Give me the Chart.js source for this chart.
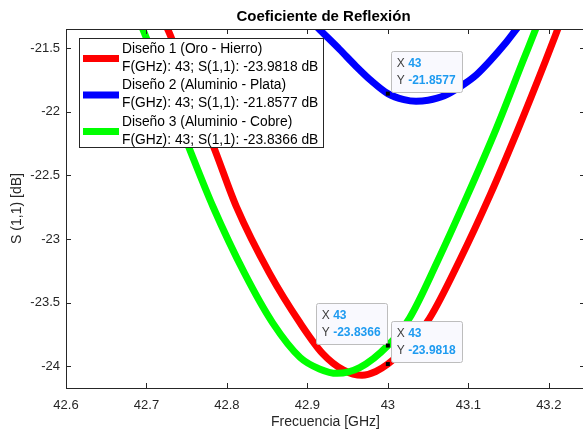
<!DOCTYPE html>
<html>
<head>
<meta charset="utf-8">
<script src="https://cdn.jsdelivr.net/npm/chart.js@4"></script>
<style>
    html, body { margin: 0; padding: 0; background: #fff; overflow: hidden; }
    #wrap { width: 600px; height: 432px; position: relative; }
</style>
</head>
<body>
<div id="wrap"><canvas id="s11Chart"></canvas></div>
<script>
// Diseño 1 (Oro - Hierro)
const freqD1 = [42.715, 42.727, 42.755, 42.785, 42.812, 42.853, 42.891, 42.919, 42.945, 42.968, 42.985, 43.0, 43.025, 43.052, 43.089, 43.127, 43.161, 43.196, 43.21, 43.225];
const s11D1 = [-21.22, -21.36, -21.83, -22.30, -22.75, -23.27, -23.66, -23.90, -24.03, -24.07, -24.04, -23.9818, -23.84, -23.62, -23.17, -22.655, -22.15, -21.60, -21.37, -21.12];

// Diseño 2 (Aluminio - Plata)
const freqD2 = [42.905, 42.916, 42.94, 42.96, 42.98, 43.0, 43.02, 43.035, 43.05, 43.07, 43.093, 43.11, 43.127, 43.145, 43.161, 43.175];
const s11D2 = [-21.29, -21.36, -21.51, -21.64, -21.76, -21.8577, -21.905, -21.918, -21.91, -21.875, -21.79, -21.71, -21.60, -21.47, -21.34, -21.23];

// Diseño 3 (Aluminio - Cobre)
const freqD3 = [42.685, 42.696, 42.725, 42.754, 42.783, 42.822, 42.857, 42.891, 42.915, 42.937, 42.965, 43.0, 43.027, 43.062, 43.099, 43.135, 43.168, 43.185, 43.20];
const s11D3 = [-21.20, -21.36, -21.83, -22.30, -22.75, -23.27, -23.66, -23.93, -24.02, -24.055, -24.01, -23.8366, -23.62, -23.17, -22.655, -22.128, -21.60, -21.33, -21.08];

const seriesNames = ['Diseño 1 (Oro - Hierro)', 'Diseño 2 (Aluminio - Plata)', 'Diseño 3 (Aluminio - Cobre)'];
const seriesColors = ['#ff0000', '#0000ff', '#00ff00'];

// data tips at 43 GHz
const markerFreq = 43;
const markerValues = [-23.9818, -21.8577, -23.8366];

const xTicks = [42.6, 42.7, 42.8, 42.9, 43, 43.1, 43.2];
const yTicks = [-24, -23.5, -23, -22.5, -22, -21.5];

const FONT = "'Liberation Sans', Arial, Helvetica, sans-serif";
const INK = '#262626';

Chart.defaults.font.family = FONT;
Chart.defaults.color = INK;

function toPoints(xs, ys) {
    return xs.map((x, i) => ({ x: x, y: ys[i] }));
}

const matlabFrame = {
    id: 'matlabFrame',
    afterDraw(chart) {
        const ctx = chart.ctx;
        const a = chart.chartArea;
        const xs = chart.scales.x;
        const ys = chart.scales.y;

        ctx.save();
        // box + inward ticks
        ctx.strokeStyle = INK;
        ctx.lineWidth = 1;
        ctx.strokeRect(Math.round(a.left) + 0.5, Math.round(a.top) + 0.5, Math.round(a.right - a.left), Math.round(a.bottom - a.top));
        ctx.beginPath();
        xTicks.forEach(v => {
            const px = Math.round(xs.getPixelForValue(v)) + 0.5;
            ctx.moveTo(px, a.bottom); ctx.lineTo(px, a.bottom - 5);
            ctx.moveTo(px, a.top); ctx.lineTo(px, a.top + 5);
        });
        yTicks.forEach(v => {
            const py = Math.round(ys.getPixelForValue(v)) + 0.5;
            ctx.moveTo(a.left, py); ctx.lineTo(a.left + 5, py);
            ctx.moveTo(a.right, py); ctx.lineTo(a.right - 5, py);
        });
        ctx.stroke();

        // title
        ctx.fillStyle = '#000';
        ctx.font = 'bold 15px ' + FONT;
        ctx.textAlign = 'center';
        ctx.textBaseline = 'middle';
        ctx.fillText('Coeficiente de Reflexión', (a.left + a.right) / 2 - 2, 17);

        // legend
        const lx = a.left + 13, ly = a.top + 9, lw = 244, lh = 109;
        ctx.fillStyle = '#fff';
        ctx.fillRect(lx, ly, lw, lh);
        ctx.strokeStyle = INK;
        ctx.strokeRect(lx + 0.5, ly + 0.5, lw, lh);
        ctx.font = '13.8px ' + FONT;
        ctx.textAlign = 'left';
        ctx.textBaseline = 'middle';
        const rowH = 18.2;
        seriesNames.forEach((name, i) => {
            const y0 = ly + 11 + 2 * i * rowH;
            ctx.strokeStyle = seriesColors[i];
            ctx.lineWidth = 7;
            ctx.beginPath();
            ctx.moveTo(lx + 4, y0 + rowH / 2 + 0.5);
            ctx.lineTo(lx + 40, y0 + rowH / 2 + 0.5);
            ctx.stroke();
            ctx.fillStyle = '#000';
            ctx.fillText(name, lx + 43, y0);
            ctx.fillText('F(GHz): ' + markerFreq + '; S(1,1): ' + markerValues[i] + ' dB', lx + 43, y0 + rowH);
        });

        // data tips
        const tipW = 71, tipH = 41;
        markerValues.forEach((val, i) => {
            const px = xs.getPixelForValue(markerFreq);
            const py = ys.getPixelForValue(val);
            const left = (i === 2) ? px - tipW - 1 : px + 3;
            const top = py - 43;
            ctx.fillStyle = '#f9f9fe';
            ctx.strokeStyle = '#bdbdbd';
            ctx.lineWidth = 1;
            ctx.beginPath();
            ctx.roundRect(Math.round(left) + 0.5, Math.round(top) + 0.5, tipW, tipH, 2);
            ctx.fill();
            ctx.stroke();
            ctx.textAlign = 'left';
            ctx.textBaseline = 'middle';
            const rows = [['X', String(markerFreq)], ['Y', String(val)]];
            rows.forEach((r, j) => {
                const ty = top + 13 + j * 17;
                ctx.font = '12px ' + FONT;
                ctx.fillStyle = '#404040';
                ctx.fillText(r[0], left + 6, ty);
                const w = ctx.measureText(r[0] + ' ').width;
                ctx.font = 'bold 12px ' + FONT;
                ctx.fillStyle = '#1e9bf0';
                ctx.fillText(r[1], left + 6 + w, ty);
            });
            ctx.fillStyle = '#000';
            ctx.fillRect(px - 2, py - 2, 4, 4);
        });
        ctx.restore();
    }
};

const ctx = document.getElementById('s11Chart').getContext('2d');
const s11Chart = new Chart(ctx, {
    type: 'line',
    data: {
        datasets: [
            { label: seriesNames[0], data: toPoints(freqD1, s11D1), borderColor: seriesColors[0], order: 3 },
            { label: seriesNames[1], data: toPoints(freqD2, s11D2), borderColor: seriesColors[1], order: 2 },
            { label: seriesNames[2], data: toPoints(freqD3, s11D3), borderColor: seriesColors[2], order: 1 }
        ]
    },
    options: {
        responsive: true,
        maintainAspectRatio: false,
        animation: false,
        devicePixelRatio: 1,
        layout: { padding: { top: 29, right: 15, left: 0, bottom: 0 } },
        datasets: {
            line: {
                borderWidth: 7,
                pointRadius: 0,
                fill: false,
                cubicInterpolationMode: 'monotone',
                clip: 0
            }
        },
        plugins: {
            legend: { display: false },
            title: { display: false },
            tooltip: { enabled: false }
        },
        scales: {
            x: {
                type: 'linear',
                min: 42.6,
                max: 43.245,
                grid: { display: false, drawTicks: false },
                border: { display: false },
                afterBuildTicks: s => { s.ticks = xTicks.map(v => ({ value: v })); },
                afterFit: s => { s.height = 44; },
                ticks: { padding: 10, font: { size: 13 }, color: INK, maxRotation: 0, callback: v => String(v) },
                title: { display: true, text: 'Frecuencia [GHz]', font: { size: 14 }, color: INK, padding: { top: 0, bottom: 1 } }
            },
            y: {
                min: -24.17,
                max: -21.35,
                grid: { display: false, drawTicks: false },
                border: { display: false },
                afterBuildTicks: s => { s.ticks = yTicks.map(v => ({ value: v })); },
                afterFit: s => { s.width = 66; },
                ticks: { padding: 6, font: { size: 13 }, color: INK, callback: v => String(v) },
                title: { display: true, text: 'S (1,1) [dB]', font: { size: 14 }, color: INK, padding: { top: 9, bottom: 0 } }
            }
        }
    },
    plugins: [matlabFrame]
});
</script>
</body>
</html>
